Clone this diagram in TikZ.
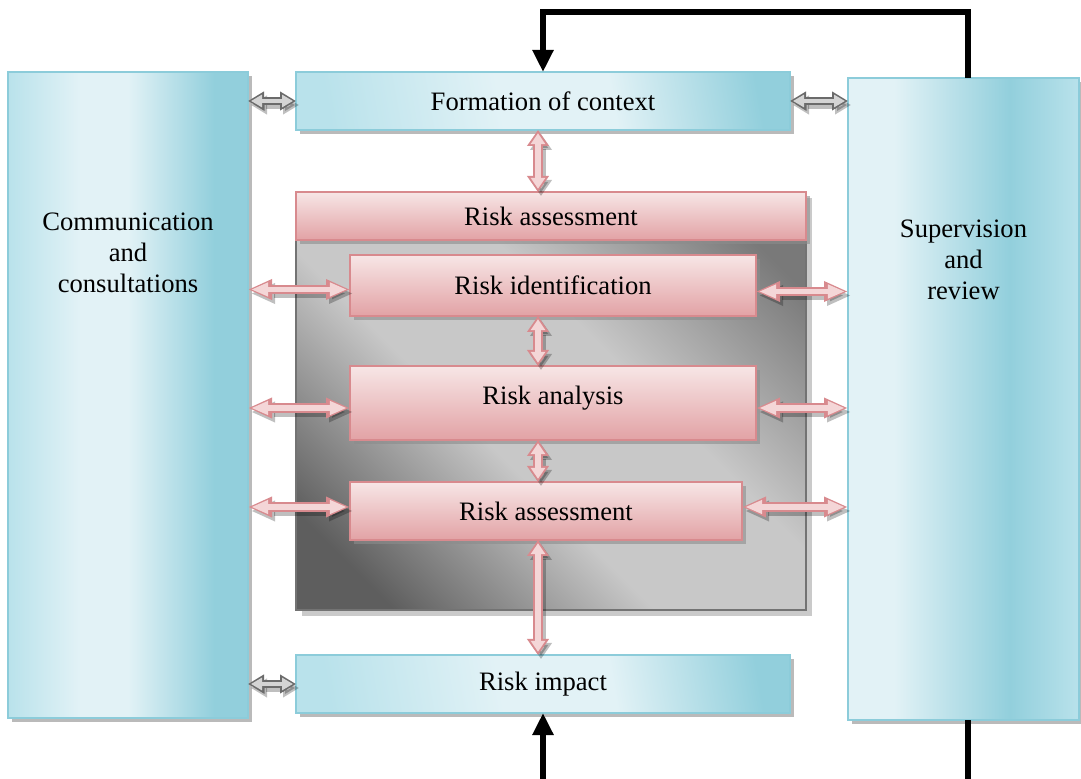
\documentclass[tikz,border=0pt]{standalone}
\usepackage{fontspec}
\setmainfont{Liberation Serif}
\usepackage{tikz}
\usetikzlibrary{arrows.meta,shadows}

\definecolor{blueL}{HTML}{E2F2F6}
\definecolor{blueM}{HTML}{B9E2EB}
\definecolor{blueD}{HTML}{92CFDC}
\definecolor{blueedge}{HTML}{8CCCDA}
\definecolor{pinkL}{HTML}{F7E6E6}
\definecolor{pinkD}{HTML}{E2A2A5}
\definecolor{pinkedge}{HTML}{D88A8E}
\definecolor{pinkfill}{HTML}{F4D6D7}
\definecolor{grayD}{HTML}{5E5E5E}
\definecolor{grayL}{HTML}{C8C8C8}

\pgfdeclarehorizontalshading{commshade}{100bp}{color(0bp)=(blueM); color(25bp)=(blueM); color(40bp)=(blueL); color(50bp)=(blueL); color(68bp)=(blueD); color(100bp)=(blueD)}
\pgfdeclarehorizontalshading{supshade}{100bp}{color(0bp)=(blueL); color(35bp)=(blueL); color(60bp)=(blueD); color(75bp)=(blueM); color(100bp)=(blueM)}
\pgfdeclarehorizontalshading{barshade}{100bp}{color(0bp)=(blueM); color(25bp)=(blueM); color(45bp)=(blueL); color(58bp)=(blueL); color(75bp)=(blueD); color(100bp)=(blueD)}
\pgfdeclarehorizontalshading{greyshade}{100bp}{color(0bp)=(grayD); color(22bp)=(grayD); color(42bp)=(grayL); color(58bp)=(grayL); color(78bp)=(grayD!75!grayL); color(100bp)=(grayD!75!grayL)}

\tikzstyle{lbl}=[font=\fontsize{13.3}{15.5}\selectfont, align=center]
\tikzstyle{boxshadow}=[drop shadow={shadow xshift=2pt,shadow yshift=-2pt,fill=black!45,opacity=.6}]
\tikzstyle{bluebox}=[rectangle, draw=blueedge, line width=.6pt, outer sep=0pt, inner sep=0pt, boxshadow, lbl]
\tikzstyle{pinkbox}=[rectangle, draw=pinkedge, line width=.6pt, outer sep=0pt, inner sep=0pt, top color=pinkL, bottom color=pinkD, boxshadow, lbl]
\tikzstyle{pinkarrow}=[draw=pinkfill, line width=2.6pt, <->, >={Triangle[length=8.5pt,width=6.5pt]}, shorten <=1.6pt, shorten >=1.6pt,
  preaction={draw=black, opacity=.25, line width=4.6pt, shorten <=0pt, shorten >=0pt, >={Triangle[length=12pt,width=9.5pt]}, transform canvas={xshift=1.5pt,yshift=-2pt}},
  preaction={draw=pinkedge, line width=4.6pt, shorten <=0pt, shorten >=0pt, >={Triangle[length=12pt,width=9.5pt]}}]
\tikzstyle{pinkvert}=[draw=pinkfill, line width=2.8pt, <->, >={Triangle[length=5.5pt,width=7pt]}, shorten <=1.6pt, shorten >=1.6pt,
  preaction={draw=black, opacity=.25, line width=4.8pt, shorten <=0pt, shorten >=0pt, >={Triangle[length=8pt,width=10.5pt]}, transform canvas={xshift=1.5pt,yshift=-2pt}},
  preaction={draw=pinkedge, line width=4.8pt, shorten <=0pt, shorten >=0pt, >={Triangle[length=8pt,width=10.5pt]}}]
\tikzstyle{grayarrow}=[draw=black!17, line width=2.4pt, <->, >={Triangle[length=5.5pt,width=6pt]}, shorten <=1.5pt, shorten >=1.5pt,
  preaction={draw=black, opacity=.25, line width=4.4pt, shorten <=0pt, shorten >=0pt, >={Triangle[length=8pt,width=9pt]}, transform canvas={xshift=1.5pt,yshift=-2pt}},
  preaction={draw=black!58, line width=4.4pt, shorten <=0pt, shorten >=0pt, >={Triangle[length=8pt,width=9pt]}}]
\tikzstyle{loopline}=[line width=3pt, ->, >={Triangle[length=11pt,width=10pt]}]

\begin{document}
\begin{tikzpicture}[x=0.5pt,y=-0.5pt]
  \useasboundingbox (0,0) rectangle (1081,779);

  % side columns
  \node[bluebox, shading=commshade, minimum width=120pt, minimum height=323pt] (comm) at (128,395) {};
  \node[lbl] (commtxt) at ([yshift=-90.5pt]comm.north) {Communication\\and\\consultations};
  \node[bluebox, shading=supshade, minimum width=115.5pt, minimum height=321pt] (sup) at (963.5,399) {};
  \node[lbl] (suptxt) at ([yshift=-91pt]sup.north) {Supervision\\and\\review};

  % context and impact
  \node[bluebox, shading=barshade, shading angle=10, minimum width=247pt, minimum height=29pt] (ctx) at (543,101) {Formation of context};
  \node[bluebox, shading=barshade, shading angle=10, minimum width=247pt, minimum height=29pt] (imp) at (543,684) {Risk impact};

  % assessment block
  \node[rectangle, draw=black!55, line width=.8pt, shading=greyshade, shading angle=45, minimum width=255pt, minimum height=209pt,
        drop shadow={shadow xshift=3pt,shadow yshift=-3pt,fill=black!35,opacity=.6}] (grey) at (551,401) {};
  \node[pinkbox, minimum width=255pt, minimum height=24pt] (hdr) at (551,216) {Risk assessment};
  \node[pinkbox, minimum width=203pt, minimum height=30.5pt] (ident) at (553,285.5) {Risk identification};
  \node[pinkbox, minimum width=203pt, minimum height=37pt, text depth=8pt] (anal) at (553,403) {Risk analysis};
  \node[pinkbox, minimum width=196pt, minimum height=29pt] (eval) at (546,511) {Risk assessment};

  \coordinate (mid) at (538,0);
  \coordinate (endA) at (968,779);
  \coordinate (endB) at (543,779);

  % gray links
  \draw[grayarrow] (comm.east |- ctx.west) -- (ctx.west);
  \draw[grayarrow] (ctx.east) -- (sup.west |- ctx.east);
  \draw[grayarrow] (comm.east |- imp.west) -- (imp.west);

  % vertical links
  \draw[pinkvert] (mid |- ctx.south) -- (mid |- hdr.north);
  \draw[pinkvert] (mid |- ident.south) -- (mid |- anal.north);
  \draw[pinkvert] (mid |- anal.south) -- (mid |- eval.north);
  \draw[pinkvert] (mid |- eval.south) -- (mid |- imp.north);

  % side links
  \draw[pinkarrow] ([yshift=-2pt]comm.east |- ident.west) -- ([yshift=-2pt]ident.west);
  \draw[pinkarrow] ([yshift=-2.5pt]comm.east |- anal.west) -- ([yshift=-2.5pt]anal.west);
  \draw[pinkarrow] ([yshift=2pt]comm.east |- eval.west) -- ([yshift=2pt]eval.west);
  \draw[pinkarrow] ([yshift=-3pt]ident.east) -- ([yshift=-3pt]sup.west |- ident.east);
  \draw[pinkarrow] ([yshift=-2.5pt]anal.east) -- ([yshift=-2.5pt]sup.west |- anal.east);
  \draw[pinkarrow] ([yshift=2pt]eval.east) -- ([yshift=2pt]sup.west |- eval.east);

  % feedback loop
  \draw[loopline] ([xshift=2.25pt]sup.north) -- ++(0,-66) -| (ctx.north);
  \draw[line width=3pt] ([xshift=2.25pt]sup.south) -- (endA);
  \draw[loopline] (endB) -- (imp.south);
\end{tikzpicture}
\end{document}
